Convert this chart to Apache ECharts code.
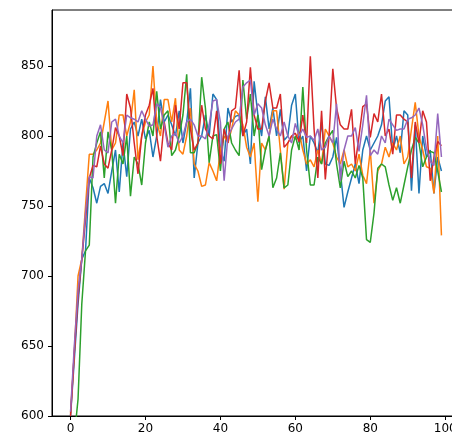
<!DOCTYPE html>
<html>
<head>
<meta charset="utf-8">
<script src="https://cdn.jsdelivr.net/npm/echarts@6/dist/echarts.min.js"></script>
<style>
  html, body { margin: 0; padding: 0; background: #fff; }
  #chart { width: 452px; height: 440px; }
</style>
</head>
<body>
<div id="chart"></div>
<script>
// x 0..99, five runs
const steps = Array.from({ length: 100 }, (_, i) => i)

const blue = [
  600, 640, 680, 712, 718, 770, 763, 752, 764, 766,
  759, 775, 790, 760, 795, 771, 805, 810, 800, 812,
  798, 804, 785, 800, 826, 810, 815, 808, 800, 818,
  795, 810, 834, 770, 795, 800, 815, 800, 830, 826,
  790, 782, 820, 810, 814, 815, 800, 805, 780, 839,
  815, 800, 828, 805, 820, 800, 819, 797, 800, 822,
  830, 795, 800, 775, 800, 795, 788, 810, 780, 779,
  785, 799, 775, 749, 760, 770, 780, 766, 790, 800,
  790, 795, 800, 808, 825, 828, 790, 800, 788, 818,
  815, 761, 808, 759, 800, 785, 790, 759, 785, 775
]
const orange = [
  602, 645, 700, 712, 750, 787, 787, 790, 795, 810,
  825, 790, 795, 815, 815, 800, 810, 833, 783, 800,
  810, 815, 850, 810, 800, 826, 826, 810, 827, 790,
  787, 800, 820, 780, 775, 764, 765, 781, 775, 768,
  790, 800, 795, 805, 818, 815, 808, 792, 785, 795,
  753, 795, 790, 800, 818, 818, 790, 762, 795, 800,
  798, 803, 790, 780, 783, 778, 790, 780, 805, 800,
  795, 785, 780, 790, 778, 780, 775, 787, 772, 766,
  790, 752, 775, 780, 792, 785, 795, 790, 800, 780,
  785, 805, 824, 800, 790, 778, 777, 759, 800, 729
]
const green = [
  570, 585, 612, 680, 718, 722, 785, 795, 803, 770,
  803, 790, 752, 787, 780, 800, 757, 785, 780, 765,
  795, 810, 800, 832, 805, 815, 818, 786, 790, 800,
  815, 844, 788, 788, 795, 842, 820, 781, 800, 801,
  775, 805, 810, 795, 790, 786, 840, 812, 830, 800,
  815, 776, 790, 800, 763, 770, 788, 763, 765, 790,
  800, 790, 835, 790, 765, 765, 785, 780, 795, 800,
  804, 780, 763, 782, 771, 775, 770, 779, 770, 726,
  724, 745, 777, 780, 778, 765, 754, 763, 752, 765,
  778, 790, 799, 795, 778, 785, 789, 788, 775, 760
]
const red = [
  600, 645, 685, 712, 740, 770, 779, 778, 793, 780,
  777, 790, 806, 800, 786, 830, 820, 795, 773, 800,
  815, 822, 834, 800, 782, 810, 795, 790, 822, 805,
  838, 838, 805, 790, 795, 822, 805, 800, 798, 818,
  780, 805, 795, 818, 820, 847, 800, 810, 849, 815,
  805, 805, 825, 838, 820, 820, 830, 792, 795, 800,
  802, 796, 815, 795, 857, 805, 770, 818, 769, 800,
  848, 820, 808, 805, 805, 819, 780, 800, 821, 823,
  799, 816, 810, 830, 800, 805, 787, 815, 815, 812,
  810, 770, 810, 795, 818, 810, 768, 785, 796, 793
]
const purple = [
  603, 650, 690, 712, 745, 771, 770, 800, 808, 790,
  788, 810, 812, 800, 795, 815, 813, 812, 810, 818,
  812, 807, 808, 823, 820, 808, 792, 800, 802, 795,
  800, 810, 812, 808, 800, 800, 798, 808, 825, 826,
  810, 768, 800, 805, 810, 812, 835, 838, 840, 815,
  823, 820, 808, 800, 812, 805, 800, 810, 800, 795,
  809, 800, 805, 799, 800, 797, 805, 790, 792, 800,
  795, 823, 768, 790, 800, 800, 806, 789, 808, 829,
  786, 790, 787, 800, 795, 812, 808, 804, 805, 805,
  812, 813, 815, 820, 808, 791, 782, 779, 816, 785
]

const xTicks = [0, 20, 40, 60, 80, 100]
const yTicks = [600, 650, 700, 750, 800, 850]

const runs = [
  { values: blue, color: '#1f77b4' },
  { values: orange, color: '#ff7f0e' },
  { values: green, color: '#2ca02c' },
  { values: red, color: '#d62728' },
  { values: purple, color: '#9467bd' }
]

const chart = echarts.init(document.getElementById('chart'))

const labelStyle = {
  color: '#000',
  fontFamily: 'DejaVu Sans',
  fontSize: 12
}

const option = {
  animation: false,
  grid: {
    left: 52,
    top: 10,
    width: 408,
    bottom: 24,
    outerBoundsMode: 'none',
    show: true,
    borderColor: '#000',
    borderWidth: 1
  },
  xAxis: {
    type: 'value',
    min: -4.95,
    max: 103.95,
    splitLine: { show: false },
    axisLine: { lineStyle: { color: '#000', width: 1 } },
    axisTick: {
      inside: false,
      length: 4,
      lineStyle: { color: '#000' },
      customValues: xTicks
    },
    axisLabel: { ...labelStyle, margin: 7, customValues: xTicks }
  },
  yAxis: {
    type: 'value',
    min: 600,
    max: 890,
    splitLine: { show: false },
    axisLine: { show: true, onZero: false, lineStyle: { color: '#000', width: 1 } },
    axisTick: {
      show: true,
      inside: false,
      length: 4,
      lineStyle: { color: '#000' },
      customValues: yTicks
    },
    axisLabel: { ...labelStyle, margin: 8, customValues: yTicks }
  },
  series: runs.map(run => ({
    type: 'line',
    data: steps.map((x, i) => [x, run.values[i]]),
    showSymbol: false,
    clip: true,
    lineStyle: { color: run.color, width: 1.5 },
    itemStyle: { color: run.color }
  }))
}

chart.setOption(option)
</script>
</body>
</html>
